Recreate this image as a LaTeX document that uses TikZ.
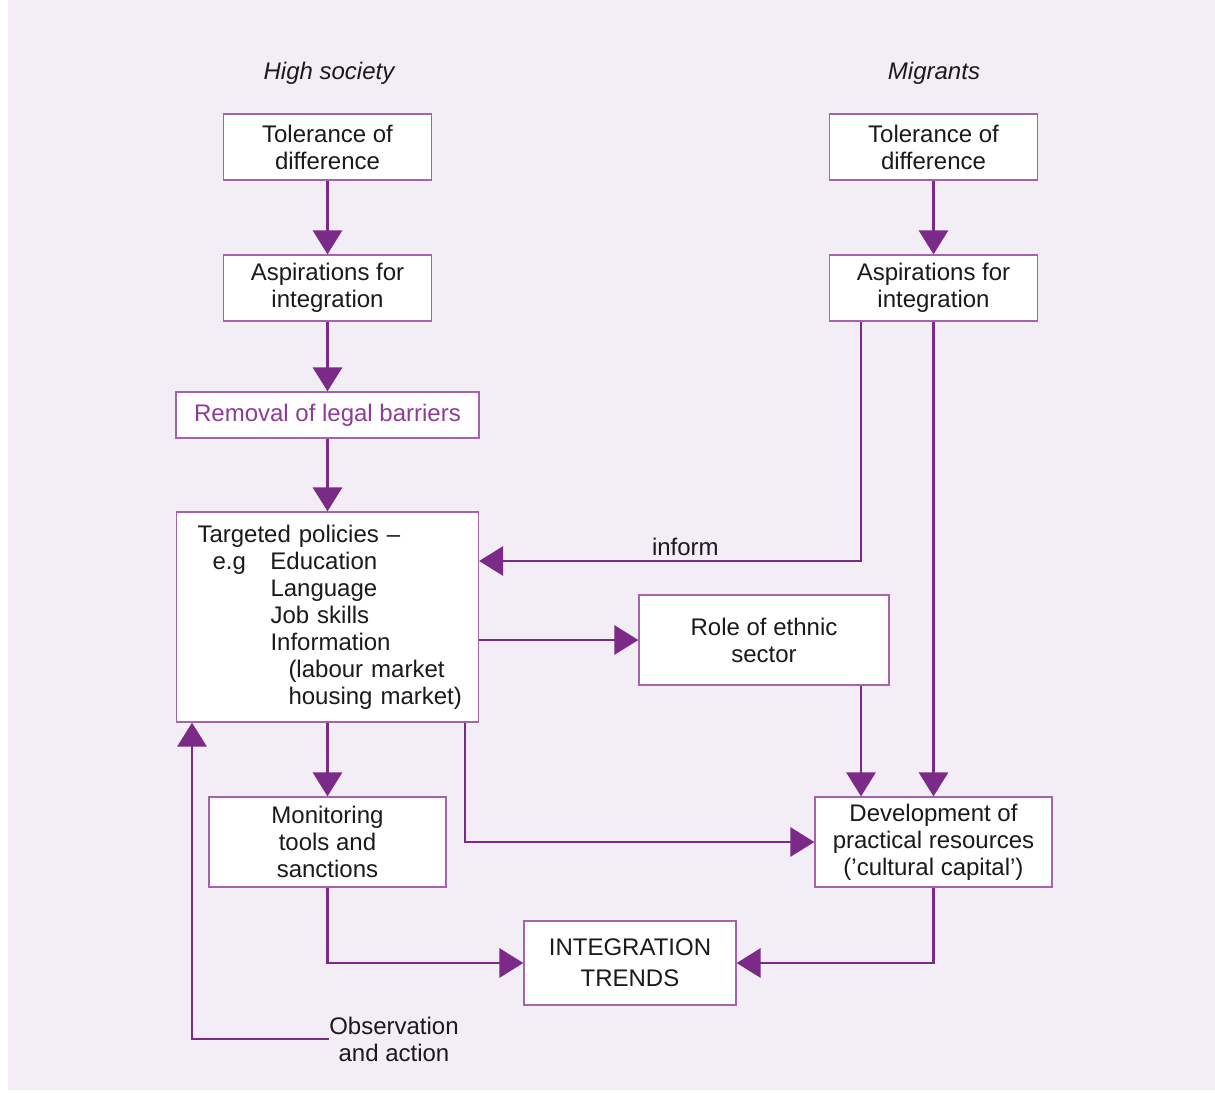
\documentclass[tikz,border=0pt]{standalone}
\usepackage{fontspec}
\setmainfont{Liberation Sans}
\usepackage{xcolor}
\usepackage{tikz}
\usetikzlibrary{
  arrows.meta,
  positioning,
  calc
}
\definecolor{PageLilac}{HTML}{F3EEF5}
\definecolor{LinePurple}{HTML}{7B2A87}
\definecolor{BoxPurple}{HTML}{A463AC}
\definecolor{TextPurple}{HTML}{8E3B99}
\definecolor{InkBlack}{HTML}{1A1A1A}
\tikzset{
  box/.style={
    draw=BoxPurple,
    line width=1pt,
    fill=white,
    align=center,
    inner sep=0pt,
    text=InkBlack
  },
  smallbox/.style={
    box,
    minimum width=156pt,
    minimum height=49.5pt
  },
  widebox/.style={
    box,
    minimum width=177.75pt,
    minimum height=67.5pt
  },
  heading/.style={
    font={\fontsize{18}{20.25}\selectfont\itshape},
    text=InkBlack
  },
  flow/.style={
    -{Triangle[length=18pt,width=22pt]},
    line width=1.6pt,
    draw=LinePurple
  }
}

\begin{document}
\begin{tikzpicture}[
  x=0.75pt,
  y=-0.75pt,
  font=\fontsize{18}{20.25}\selectfont
]

  \useasboundingbox (0,0) rectangle (1215,1093);
  \fill[PageLilac] (8,0) rectangle (1215,1090);

  % column headings
  \node[heading] (society) at (329,73) {High society};
  \node[heading] (migrants) at (934,73) {Migrants};

  % high society column
  \node[smallbox] (tolA) at (327.5,147) {Tolerance of\\difference};
  \node[smallbox] (aspA) at (327.5,288) {Aspirations for\\integration};

  \node[
    box,
    text=TextPurple,
    minimum width=227.25pt,
    minimum height=34.5pt
  ] (removal) at (327.5,415) {Removal of legal barriers};

  \node[
    box,
    align=left,
    minimum width=226.5pt,
    minimum height=157.5pt,
    text width=226.5pt
  ] (policies) at (327.5,617) {
    \hspace*{15.75pt}Targeted policies –\\
    \hspace*{27pt}\makebox[43.5pt][l]{e.g}Education\\
    \hspace*{70.5pt}Language\\
    \hspace*{70.5pt}Job skills\\
    \hspace*{70.5pt}Information\\
    \hspace*{84pt}(labour market\\
    \hspace*{84pt}housing market)
  };

  \node[widebox] (monitor) at (327.5,842) {Monitoring\\tools and\\sanctions};

  % migrants column
  \node[smallbox] (tolB) at (933.5,147) {Tolerance of\\difference};
  \node[smallbox] (aspB) at (933.5,288) {Aspirations for\\integration};

  \node[
    box,
    minimum width=187.5pt,
    minimum height=67.5pt
  ] (ethnic) at (764,640) {Role of ethnic\\sector};

  \node[widebox] (resources) at (933.5,842) {
    Development of\\
    practical resources\\
    (’cultural capital’)
  };

  \node[
    box,
    minimum width=159pt,
    minimum height=63pt,
    font=\fontsize{18}{23}\selectfont
  ] (trends) at (630,963) {INTEGRATION\\TRENDS};

  \node[
    align=center,
    inner sep=0pt,
    anchor=west,
    text=InkBlack
  ] (observe) at (329,1039) {Observation\\and action};

  % lanes for the bent connectors
  \coordinate (laneInform) at (861,0);
  \coordinate (laneDirect) at (465,0);
  \coordinate (laneFeedback) at (192,0);

  \draw[flow] (tolA) -- (aspA);
  \draw[flow] (aspA) -- (removal);
  \draw[flow] (removal) -- (policies);
  \draw[flow] (policies) -- (monitor);

  \draw[flow] (tolB) -- (aspB);
  \draw[flow] (aspB) -- (resources);

  \draw[flow]
  (aspB.south -| laneInform) |-
  node[
    pos=0.73,
    above,
    text=InkBlack,
    inner sep=3pt
  ] {inform}
  ([yshift=42pt]policies.east);

  \draw[flow] (policies.east |- ethnic) -- (ethnic);
  \draw[flow] (ethnic.south -| laneInform) -- (resources.north -| laneInform);
  \draw[flow] (policies.south -| laneDirect) |- (resources);

  \draw[flow] (monitor) |- (trends);
  \draw[flow] (resources) |- (trends);

  \draw[flow] (observe.west) -| (policies.south -| laneFeedback);

\end{tikzpicture}
\end{document}
